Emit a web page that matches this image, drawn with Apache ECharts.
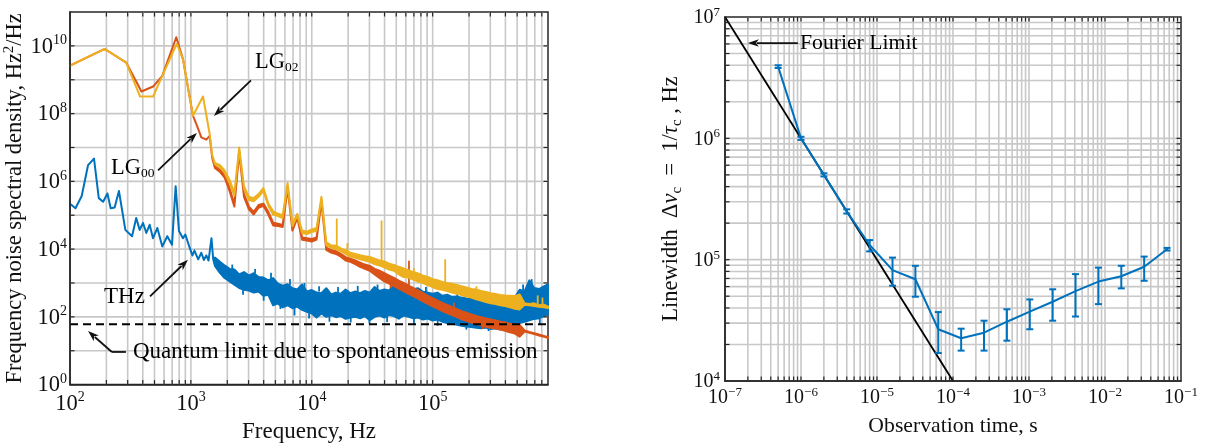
<!DOCTYPE html>
<html><head><meta charset="utf-8">
<script src="https://cdn.jsdelivr.net/npm/echarts@6/dist/echarts.min.js"></script>
<style>html,body{margin:0;padding:0;background:#fff}#c{width:1214px;height:448px}</style>
</head><body><div id="c"></div>
<script>
// ================= LEFT PANEL DATA (frequency noise spectral density) =================
// Low-frequency single-line parts
const thzLowFreq = [100,111,125,141,158,173,188,204,217,234,254,287,326,353,377,402,428,456,486,528,580,638,698,748,797,860,900,977,1030,1070,1150,1220,1280,1340,1400,1480,1530];
const thzLowVal = [2.2e5,1.6e5,3.7e5,3.0e6,4.7e6,3.2e5,2.5e5,4.4e5,1.6e5,1.7e5,5.2e5,3.7e4,2.4e4,8.3e4,3.7e4,5.9e4,3.0e4,5.2e4,2.1e4,4.2e4,1.2e4,2.4e4,1.35e4,7.2e5,3.4e4,2.1e4,2.7e4,1.1e4,6.5e3,9.0e3,5.0e3,7.8e3,4.8e3,6.5e3,4.6e3,2.1e4,5.0e3];
const lg00LowFreq = [100,194,292,390,487,580,757,861,1040,1110,1220,1340,1430,1500];
const lg00LowVal = [2.6e9,8.1e9,3.2e9,4.5e8,6.3e8,1.3e9,1.8e10,4.0e9,8.7e7,4.9e7,2.0e7,1.7e7,2.2e7,5.0e6];
const lg02LowFreq = [100,194,292,380,487,580,765,861,1040,1260,1430,1500];
const lg02LowVal = [2.6e9,8.1e9,3.2e9,3.2e8,3.2e8,1.3e9,1.16e10,4.0e9,8.7e7,3.2e8,2.5e7,6.0e6];
// Dense (noisy) part: shared frequency grid, upper and lower envelope of each trace
const gridFreq = [1580,1740,1900,2090,2290,2510,2750,3020,3310,3630,
  3980,4370,4790,5250,5750,6310,6920,7590,8320,9120,
  10000,10960,12020,13180,14450,15850,17380,19050,20890,22910,
  25120,27540,30200,33110,36310,39810,43650,47860,52480,57540,
  63100,69180,75860,83180,91200,100000,109600,120200,131800,144500,
  158500,173800,190500,208900,229100,251200,275400,302000,331100,363100,
  398100,436500,478600,524800,575400,631000,691800,758600,831800,900000];
const thzHi = [5600,4200,3300,2600,2500,1800,2100,1660,1950,1500,
  1450,1200,1400,950,830,920,700,640,900,560,
  620,520,500,700,460,520,480,640,500,560,
  500,580,520,760,580,640,600,850,630,700,
  600,650,700,550,520,480,520,420,450,390,
  400,370,350,340,316,345,300,330,300,320,
  290,330,380,630,560,1200,710,660,790,910];
const thzLo = [3200,2000,1400,1120,890,710,630,600,520,560,
  420,450,220,250,190,220,180,200,160,140,
  126,95,126,100,112,98,105,87,95,100,
  91,105,80,100,110,95,115,105,88,110,
  100,91,95,83,89,78,83,72,66,63,
  58,55,52,50,48,46,48,44,46,42,
  45,50,55,66,72,79,87,91,105,123];
const lg00Hi = [2.8e6,2.2e6,1.6e6,6.3e5,2.1e5,7.9e6,4.2e5,1.8e5,1.26e5,2.0e5,
  2.2e5,1.26e5,6.0e4,5.6e4,5.2e4,7.1e5,4.2e4,9.5e4,2.2e4,2.1e4,
  2.0e4,2.2e4,2.8e5,1.1e4,9.5e3,8.7e3,7.2e3,5.8e3,5.2e3,4.6e3,
  4.0e3,3.5e3,3.2e3,2.6e3,2.3e3,1.95e3,1.66e3,1.41e3,1.17e3,1.0e3,
  830,710,600,500,417,355,302,257,224,195,
  170,148,132,117,107,98,89,83,78,72,
  68,63,60,58,40,36,33,30,27.5,25];
const lg00Lo = [2.5e6,1.9e6,1.3e6,5.2e5,1.8e5,7.1e6,3.5e5,1.5e5,1.05e5,1.66e5,
  1.9e5,1.05e5,5.0e4,4.8e4,4.5e4,6.3e5,3.5e4,8.3e4,1.9e4,1.8e4,
  1.66e4,1.9e4,2.5e5,9.5e3,7.9e3,7.2e3,6.0e3,4.6e3,4.2e3,3.6e3,
  3.0e3,2.6e3,2.3e3,1.78e3,1.4e3,1.12e3,955,813,676,575,
  479,407,347,288,240,204,174,148,129,112,
  98,85,76,68,62,56,51,48,45,42,
  39,35,32,26,37,34,31,28,26,23.5];
const lg02Hi = [3.5e6,3.0e6,2.1e6,1.1e6,4.5e5,1.0e7,7.1e5,3.5e5,3.2e5,4.2e5,
  6.3e5,2.2e5,1.3e5,1.1e5,1.0e5,8.9e5,5.6e4,1.1e5,3.5e4,3.3e4,
  3.8e4,4.2e4,3.5e5,1.6e4,1.3e4,1.26e4,1.05e4,9.1e3,7.8e3,7.2e3,
  6.6e3,6.2e3,5.9e3,5.2e3,4.6e3,4.3e3,3.7e3,3.4e3,3.0e3,2.7e3,
  2.4e3,2.1e3,1.9e3,1.65e3,1.5e3,1.3e3,1.2e3,1.08e3,1.0e3,950,
  880,800,740,670,640,580,540,500,470,440,
  425,420,410,460,251,240,251,219,229,200];
const lg02Lo = [3.2e6,2.6e6,1.8e6,8.9e5,3.8e5,8.9e6,6.0e5,2.8e5,2.6e5,3.5e5,
  5.2e5,1.9e5,1.05e5,9.5e4,8.3e4,7.9e5,4.8e4,1.0e5,3.0e4,2.8e4,
  3.2e4,3.5e4,3.2e5,1.3e4,1.1e4,1.0e4,8.7e3,7.2e3,6.0e3,5.5e3,
  5.0e3,4.6e3,4.2e3,3.6e3,3.3e3,2.9e3,2.5e3,2.3e3,1.8e3,1.5e3,
  1.45e3,1.26e3,1.1e3,1.0e3,870,760,660,630,575,525,
  479,437,398,372,331,302,275,251,240,219,
  209,191,174,166,229,219,209,200,191,182];
// Narrow noise spikes on the traces: [frequency, base, tip]
const thzSpikes = [[2200,2400,3500],[2700,700,450],[3400,1900,2600],[4000,500,300],[4600,1300,2000],[5500,280,170],[6600,850,1300],[7200,190,110],[8700,650,1000],[9500,150,90],
  [11500,560,800],[14000,105,72],[16500,500,760],[21000,100,68],[24000,540,820],[30000,90,64],[35000,600,900],[42000,100,70],[45000,620,1000],[60000,650,950],
  [70000,90,60],[88000,520,760],[110000,80,54],[160000,400,560],[190000,55,42],[240000,330,500],[290000,48,38],[330000,310,460],[420000,44,35],[560000,600,900],[660000,800,1300],[770000,90,60]];
const lg00Spikes = [[63700,800,4.5e3],[28000,2.7e3,3.6e3],[45000,900,700],[150000,200,260],[260000,55,44]];
const lg02Spikes = [[16100,1.1e4,8.0e4],[19700,8.0e3,1.5e4],[37800,4.5e3,7.0e4],[127000,1.0e3,5.0e3],[7.4e5,220,430],[8.1e5,210,370],[70000,2.1e3,2.7e3],[230000,620,800]];
// Quantum limit
const quantumFreq = [100, 9e5];
const quantumVal = [60, 60];
// Tick labels (exponents) and grid lines
const leftXLabelExps = [2,3,4,5];
const leftYLabelExps = [0,2,4,6,8,10];
const leftXGrid = [200,300,400,500,600,700,800,900,1000,2000,3000,4000,5000,6000,7000,8000,9000,1e4,2e4,3e4,4e4,5e4,6e4,7e4,8e4,9e4,1e5,2e5,3e5,4e5,5e5,6e5,7e5,8e5];
const leftYGrid = [10,100,1e3,1e4,1e5,1e6,1e7,1e8,1e9,1e10];

// ================= RIGHT PANEL DATA (linewidth vs observation time) =================
const obsTime = [5e-7,1e-6,2e-6,4e-6,8e-6,1.6e-5,3.2e-5,6.4e-5,1.28e-4,2.56e-4,5.12e-4,1.024e-3,2.048e-3,4.096e-3,8.192e-3,1.6384e-2,3.2768e-2,6.5536e-2];
const linewidth = [3.9e6,1.0e6,5.0e5,2.5e5,1.32e5,8.2e4,6.9e4,2.67e4,2.25e4,2.5e4,3.08e4,3.73e4,4.5e4,5.5e4,6.6e4,7.3e4,8.75e4,1.22e5];
const errLow = [3.8e6,9.7e5,4.85e5,2.4e5,1.17e5,6.1e4,4.95e4,1.7e4,1.78e4,1.78e4,2.15e4,2.67e4,3.14e4,3.4e4,4.3e4,5.8e4,6.7e4,1.19e5];
const errHigh = [4.0e6,1.03e6,5.15e5,2.6e5,1.45e5,1.04e5,8.9e4,3.7e4,2.7e4,3.14e4,3.9e4,4.7e4,5.7e4,7.6e4,8.6e4,8.9e4,1.06e5,1.25e5];
const fourierTime = [1e-7, 1e-4];
const fourierWidth = [1e7, 1e4];
const rightXLabelExps = [-7,-6,-5,-4,-3,-2,-1];
const rightYLabelExps = [4,5,6,7];
const rightXGrid = [2e-7,3e-7,4e-7,5e-7,6e-7,7e-7,8e-7,9e-7,1e-6,2e-6,3e-6,4e-6,5e-6,6e-6,7e-6,8e-6,9e-6,1e-5,2e-5,3e-5,4e-5,5e-5,6e-5,7e-5,8e-5,9e-5,1e-4,2e-4,3e-4,4e-4,5e-4,6e-4,7e-4,8e-4,9e-4,1e-3,2e-3,3e-3,4e-3,5e-3,6e-3,7e-3,8e-3,9e-3,1e-2,2e-2,3e-2,4e-2,5e-2,6e-2,7e-2,8e-2,9e-2];
const rightYGrid = [2e4,3e4,4e4,5e4,6e4,7e4,8e4,9e4,1e5,2e5,3e5,4e5,5e5,6e5,7e5,8e5,9e5,1e6,2e6,3e6,4e6,5e6,6e6,7e6,8e6,9e6];

// ================= STYLE =================
const FONT = "'Liberation Serif','Times New Roman',Times,serif";
const BLUE = '#0072BD', RED = '#D95319', YELLOW = '#EDB120';
const GRIDC = '#c8c8c8', AXC = '#262626', TXT = '#111';
const LFS = 23, RFS = 21.7;

function supLabel(exps, big, small, margin) {
  return {
    margin: margin, showMinLabel: true, showMaxLabel: true,
    formatter: function (v) {
      const l = Math.log10(v), e = Math.round(l);
      if (Math.abs(l - e) > 1e-6 || exps.indexOf(e) < 0) return '';
      return '{b|10}{p|' + (e < 0 ? '\u2212' + (-e) : e) + '}';
    },
    rich: {
      b: {fontFamily: FONT, fontSize: big, color: TXT, lineHeight: big + 2, verticalAlign: 'bottom'},
      p: {fontFamily: FONT, fontSize: small, color: TXT, lineHeight: small, verticalAlign: 'top'}
    }
  };
}
function axisBase(extra) {
  return Object.assign({
    type: 'log', z: 8,
    axisLine: {show: true, onZero: false, lineStyle: {color: AXC, width: 1.5}},
    axisTick: {show: false},
    splitLine: {show: false}, minorTick: {show: false}, minorSplitLine: {show: false}
  }, extra);
}
// Grid lines (below data) and inside tick marks on all four sides (above data)
function gridSeries(idx, xs, ys, xRef, yRef, ticks) {
  const data = xs.map(v => [v, yRef, 0]).concat(ys.map(v => [xRef, v, 1]));
  return {
    type: 'custom', xAxisIndex: idx, yAxisIndex: idx, z: ticks ? 7 : 1, silent: true,
    data: data, encode: {x: 0, y: 1},
    renderItem: function (params, api) {
      const cs = params.coordSys;
      const p = api.coord([api.value(0), api.value(1)]);
      if (!ticks) {
        const st = {stroke: GRIDC, lineWidth: 1.6};
        if (api.value(2) === 0) return {type: 'line', shape: {x1: p[0], y1: cs.y, x2: p[0], y2: cs.y + cs.height}, style: st};
        return {type: 'line', shape: {x1: cs.x, y1: p[1], x2: cs.x + cs.width, y2: p[1]}, style: st};
      }
      const tl = 4.5, ts = {stroke: AXC, lineWidth: 1.2};
      if (api.value(2) === 0) return {type: 'group', children: [
        {type: 'line', shape: {x1: p[0], y1: cs.y + cs.height, x2: p[0], y2: cs.y + cs.height - tl}, style: ts},
        {type: 'line', shape: {x1: p[0], y1: cs.y, x2: p[0], y2: cs.y + tl}, style: ts}]};
      return {type: 'group', children: [
        {type: 'line', shape: {x1: cs.x, y1: p[1], x2: cs.x + tl, y2: p[1]}, style: ts},
        {type: 'line', shape: {x1: cs.x + cs.width, y1: p[1], x2: cs.x + cs.width - tl, y2: p[1]}, style: ts}]};
    }
  };
}
function bandPoly(lowF, lowV, hi, lo) {
  const low = lowF.map((f, i) => [f, lowV[i]]);
  const top = low.concat(gridFreq.map((f, i) => [f, hi[i]]));
  const bot = low.concat(gridFreq.map((f, i) => [f, lo[i]]));
  return top.concat(bot.reverse());
}
function bandSeries(name, poly, color, z) {
  return {
    type: 'custom', name: name, xAxisIndex: 0, yAxisIndex: 0, z: z, silent: true,
    data: poly, encode: {x: 0, y: 1},
    renderItem: function (params, api) {
      if (params.dataIndex !== 0) return null;
      const pts = poly.map(p => api.coord(p));
      return {type: 'polygon', shape: {points: pts},
        style: {fill: color, stroke: color, lineWidth: 2, lineJoin: 'round'}};
    }
  };
}
function spikeSeries(spikes, color, z) {
  return {
    type: 'custom', xAxisIndex: 0, yAxisIndex: 0, z: z, silent: true,
    data: spikes, encode: {x: 0, y: [1, 2]},
    renderItem: function (params, api) {
      const a = api.coord([api.value(0), api.value(1)]);
      const b = api.coord([api.value(0), api.value(2)]);
      return {type: 'line', shape: {x1: a[0], y1: a[1], x2: b[0], y2: b[1]},
        style: {stroke: color, lineWidth: 1.8}};
    }
  };
}

const option = {
  animation: false,
  backgroundColor: '#fff',
  grid: [
    {left: 70, top: 12, width: 478, height: 376, show: true, borderColor: AXC, borderWidth: 1.5, backgroundColor: 'transparent'},
    {left: 725, top: 17, width: 456, height: 364, show: true, borderColor: AXC, borderWidth: 1.5, backgroundColor: 'transparent'}
  ],
  xAxis: [
    axisBase({gridIndex: 0, logBase: 10, min: 100, max: 9e5,
      axisLabel: supLabel(leftXLabelExps, 22.5, 14, 6),
      name: 'Frequency, Hz', nameLocation: 'middle', nameGap: 32,
      nameTextStyle: {fontFamily: FONT, fontSize: LFS, color: TXT}}),
    axisBase({gridIndex: 1, logBase: 10, min: 1e-7, max: 1e-1,
      axisLabel: supLabel(rightXLabelExps, 20, 13, 5),
      name: 'Observation time, s', nameLocation: 'middle', nameGap: 34,
      nameTextStyle: {fontFamily: FONT, fontSize: RFS, color: TXT}})
  ],
  yAxis: [
    axisBase({gridIndex: 0, logBase: 100, min: 1, max: 1e11,
      axisLabel: supLabel(leftYLabelExps, 22.5, 14, 3),
      name: '{t|Frequency noise spectral density, Hz}{p|2}{t|/Hz}', nameLocation: 'middle', nameGap: 38,
      nameTextStyle: {fontFamily: FONT, fontSize: 22.5, color: TXT, rich: {
        t: {fontFamily: FONT, fontSize: 22.5, color: TXT, lineHeight: 25, verticalAlign: 'bottom'},
        p: {fontFamily: FONT, fontSize: 15, color: TXT, lineHeight: 15, verticalAlign: 'top'}}}}),
    axisBase({gridIndex: 1, logBase: 10, min: 1e4, max: 1e7,
      axisLabel: supLabel(rightYLabelExps, 20, 13, 5),
      name: '{t|Linewidth  \u0394}{i|\u03bd}{s|c}{t|  =  1/}{i|\u03c4}{s|c}{t| , Hz}', nameLocation: 'middle', nameGap: 40,
      nameTextStyle: {fontFamily: FONT, fontSize: 22.5, color: TXT, rich: {
        t: {fontFamily: FONT, fontSize: 22.5, color: TXT, lineHeight: 25, verticalAlign: 'top'},
        i: {fontFamily: FONT, fontSize: 22.5, fontStyle: 'italic', color: TXT, lineHeight: 25, verticalAlign: 'top'},
        s: {fontFamily: FONT, fontSize: 15, color: TXT, lineHeight: 25, verticalAlign: 'bottom'}}}})
  ],
  series: [
    gridSeries(0, leftXGrid, leftYGrid, 1000, 10, false),
    gridSeries(1, rightXGrid, rightYGrid, 1e-4, 1e5, false),
    gridSeries(0, leftXGrid, leftYGrid, 1000, 10, true),
    gridSeries(1, rightXGrid, rightYGrid, 1e-4, 1e5, true),
    bandSeries('THz', bandPoly(thzLowFreq, thzLowVal, thzHi, thzLo), BLUE, 2),
    spikeSeries(thzSpikes, BLUE, 2),
    bandSeries('LG00', bandPoly(lg00LowFreq, lg00LowVal, lg00Hi, lg00Lo), RED, 3),
    spikeSeries(lg00Spikes, RED, 3),
    bandSeries('LG02', bandPoly(lg02LowFreq, lg02LowVal, lg02Hi, lg02Lo), YELLOW, 4),
    spikeSeries(lg02Spikes, YELLOW, 4),
    {type: 'line', name: 'Quantum limit', xAxisIndex: 0, yAxisIndex: 0, z: 6, silent: true,
      data: quantumFreq.map((f, i) => [f, quantumVal[i]]), symbol: 'none',
      lineStyle: {color: '#000', width: 2, type: [8, 5]}},
    {type: 'line', name: 'Fourier limit', xAxisIndex: 1, yAxisIndex: 1, z: 3, silent: true,
      data: fourierTime.map((t, i) => [t, fourierWidth[i]]), symbol: 'none',
      lineStyle: {color: '#000', width: 1.8}},
    {type: 'line', name: 'Linewidth', xAxisIndex: 1, yAxisIndex: 1, z: 4, silent: true,
      data: obsTime.map((t, i) => [t, linewidth[i]]), symbol: 'none',
      lineStyle: {color: BLUE, width: 2}},
    {type: 'custom', name: 'Error', xAxisIndex: 1, yAxisIndex: 1, z: 5, silent: true,
      data: obsTime.map((t, i) => [t, errLow[i], errHigh[i]]), encode: {x: 0, y: [1, 2]},
      renderItem: function (params, api) {
        const t = api.value(0);
        const a = api.coord([t, api.value(1)]), b = api.coord([t, api.value(2)]);
        const w = 3.5, st = {stroke: BLUE, lineWidth: 2};
        return {type: 'group', children: [
          {type: 'line', shape: {x1: a[0], y1: a[1], x2: b[0], y2: b[1]}, style: st},
          {type: 'line', shape: {x1: a[0] - w, y1: a[1], x2: a[0] + w, y2: a[1]}, style: st},
          {type: 'line', shape: {x1: b[0] - w, y1: b[1], x2: b[0] + w, y2: b[1]}, style: st}
        ]};
      }}
  ]
};

const chart = echarts.init(document.getElementById('c'));
chart.setOption(option);

// ================= ANNOTATIONS (anchored in data coordinates) =================
const P0 = d => chart.convertToPixel({gridIndex: 0}, d);
const P1 = d => chart.convertToPixel({gridIndex: 1}, d);
function arrow(p0, p1) {
  const dx = p1[0] - p0[0], dy = p1[1] - p0[1], L = Math.hypot(dx, dy);
  const ux = dx / L, uy = dy / L, hl = 11, hw = 3.8;
  const bx = p1[0] - ux * hl, by = p1[1] - uy * hl;
  return [
    {type: 'line', z: 50, shape: {x1: p0[0], y1: p0[1], x2: bx + ux * 2, y2: by + uy * 2}, style: {stroke: '#111', lineWidth: 1.8}},
    {type: 'polygon', z: 50, shape: {points: [[p1[0], p1[1]], [bx - uy * hw, by + ux * hw], [bx + ux * 3, by + uy * 3], [bx + uy * hw, by - ux * hw]]}, style: {fill: '#111'}}
  ];
}
function label(p, text, size, rich) {
  return {type: 'text', z: 50, x: p[0], y: p[1], style: {text: text, fontFamily: FONT, fontSize: size, fill: '#000',
    verticalAlign: 'middle', align: 'left', rich: rich}};
}
const subRich = {
  m: {fontFamily: FONT, fontSize: 22.5, fill: '#000', lineHeight: 24, verticalAlign: 'top'},
  s: {fontFamily: FONT, fontSize: 13.5, fill: '#000', lineHeight: 24, verticalAlign: 'bottom'}
};
const g = [];
g.push(label(P0([3390, 3.2e9]), '{m|LG}{s|02}', LFS, subRich));
g.push(...arrow(P0([3140, 9.6e8]), P0([1550, 8.5e7])));
g.push(label(P0([218, 2.4e6]), '{m|LG}{s|00}', LFS, subRich));
g.push(...arrow(P0([535, 2.1e6]), P0([1122, 2.7e7])));
g.push(label(P0([191, 376]), 'THz', LFS));
g.push(...arrow(P0([459, 400]), P0([946, 4.85e3])));
g.push(label(P0([332, 9.2]), 'Quantum limit due to spontaneous emission', LFS));
const q0 = P0([290, 9.2]), q1 = P0([222, 9.2]);
g.push({type: 'line', z: 50, shape: {x1: q0[0], y1: q0[1], x2: q1[0], y2: q1[1]}, style: {stroke: '#111', lineWidth: 1.8}});
g.push(...arrow(q1, P0([141, 38])));
g.push(label(P1([9.7e-7, 6.1e6]), 'Fourier Limit', RFS));
g.push(...arrow(P1([9.1e-7, 6.1e6]), P1([2.0e-7, 6.1e6])));
chart.setOption({graphic: g});
</script>
</body></html>
